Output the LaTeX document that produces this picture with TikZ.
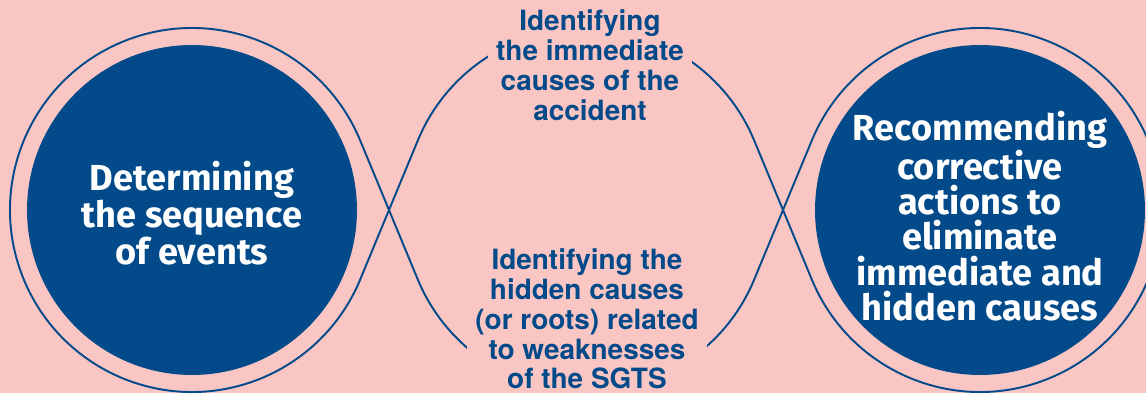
\documentclass[tikz,border=0pt]{standalone}
\usepackage{fontspec}
\setmainfont{TeX Gyre Heros}
\newfontfamily\circfont{Fira Sans}
\usetikzlibrary{calc}
\definecolor{bgpink}{RGB}{250,198,196}
\definecolor{navy}{RGB}{2,74,137}
\begin{document}
\begin{tikzpicture}[x=0.02cm,y=0.02cm,
  ring/.style={draw=navy,line width=1.1pt},
  disc/.style={circle,fill=navy,minimum size=6.6cm,inner sep=0pt},
  midtext/.style={fill=bgpink,text=navy,font=\fontsize{15.9}{17}\selectfont\bfseries,align=center,inner xsep=4.5pt,inner ysep=2pt},
  circtext/.style={text=white,font=\circfont\bfseries\fontsize{20.6}{20}\selectfont,align=center,inner sep=0pt}]
\fill[bgpink] (0,0) rectangle (1146,393);
\useasboundingbox (0,0) rectangle (1146,393);
\clip (0,0) rectangle (1146,393);
\coordinate (cL) at (192,183);
\coordinate (cM) at (586,183);
\coordinate (cR) at (980,183);
\node[disc] (dL) at (cL) {};
\node[disc] (dR) at (cR) {};
\draw[ring] ($(cL)+(22.5:182)$) arc[start angle=22.5,end angle=337.5,radius=182]
  -- ($(cM)+(157.5:182)$) arc[start angle=157.5,end angle=22.5,radius=182]
  -- ($(cR)+(202.5:182)$) arc[start angle=202.5,end angle=517.5,radius=182]
  -- ($(cM)+(-22.5:182)$) arc[start angle=-22.5,end angle=-157.5,radius=182]
  -- cycle;
\node[midtext] (top) at (590,328) {Identifying\\the immediate\\causes of the\\accident};
\node[midtext] (bot) at (587,74) {Identifying the\\hidden causes\\(or roots) related\\to weaknesses\\of the SGTS};
\node[circtext] (lt) at (192,180) {Determining\\the sequence\\of events};
\node[circtext] (rt) at (980,177) {Recommending\\corrective\\actions to\\eliminate\\immediate and\\hidden causes};
\end{tikzpicture}
\end{document}
